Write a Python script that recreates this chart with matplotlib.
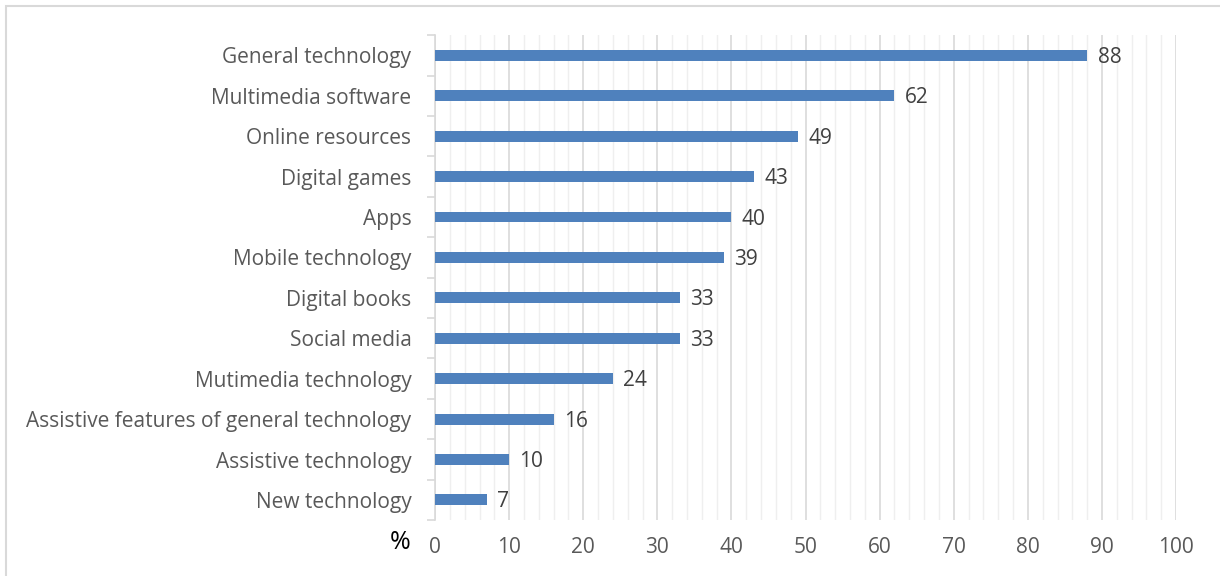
import matplotlib.pyplot as plt
from matplotlib.patches import Rectangle
from matplotlib.ticker import MultipleLocator, FixedLocator, NullFormatter

# survey categories, bottom to top, and the share (%) for each
categories = ['New technology', 'Assistive technology',
              'Assistive features of general technology', 'Mutimedia technology',
              'Social media', 'Digital books', 'Mobile technology', 'Apps',
              'Digital games', 'Online resources', 'Multimedia software',
              'General technology']
values = [7, 10, 16, 24, 33, 33, 39, 40, 43, 49, 62, 88]

plt.rcParams['font.family'] = ['Open Sans', 'DejaVu Sans']
bar_col = '#4f81bd'
txt_col = '#595959'

fig = plt.figure(figsize=(12.2, 5.76), dpi=100)
ax = fig.add_axes([0.3566, 0.097, 0.6074, 0.842])

pos = list(range(len(categories)))
ax.barh(pos, values, height=0.27, color=bar_col, zorder=3)
for p, v in zip(pos, values):
    ax.text(v + 1.4, p - 0.05, str(v), va='center', ha='left',
            fontsize=15, color='#404040')

ax.set_xlim(0, 100)
ax.set_ylim(-0.5, len(categories) - 0.5)

ax.xaxis.set_major_locator(MultipleLocator(10))
ax.xaxis.set_minor_locator(MultipleLocator(2))
ax.grid(which='minor', axis='x', color='#efefef', lw=1.0, zorder=0)
ax.grid(which='major', axis='x', color='#d9d9d9', lw=1.2, zorder=1)
ax.tick_params(axis='x', which='both', length=0, labelsize=15,
               labelcolor=txt_col, pad=12)

ax.set_yticks(pos)
ax.set_yticklabels(categories)
ax.yaxis.set_minor_locator(FixedLocator([i - 0.5 for i in range(len(categories) + 1)]))
ax.yaxis.set_minor_formatter(NullFormatter())
ax.tick_params(axis='y', which='major', length=0, labelsize=15,
               labelcolor=txt_col, pad=17)
ax.tick_params(axis='y', which='minor', length=6, color='#d9d9d9', width=1.2)

for s in ['top', 'right', 'bottom']:
    ax.spines[s].set_visible(False)
ax.spines['left'].set_color('#d9d9d9')
ax.spines['left'].set_linewidth(1.2)

fig.text(0.328, 0.058, '%', fontsize=18, color='black', ha='center', va='center')

# light frame round the chart area
fig.patches.append(Rectangle((6 / 1220, -0.01), 1.02, 1 - 5.5 / 576 + 0.01,
                             transform=fig.transFigure, fill=False,
                             edgecolor='#d9d9d9', lw=1.5))

fig.savefig('out.png', dpi=100)
